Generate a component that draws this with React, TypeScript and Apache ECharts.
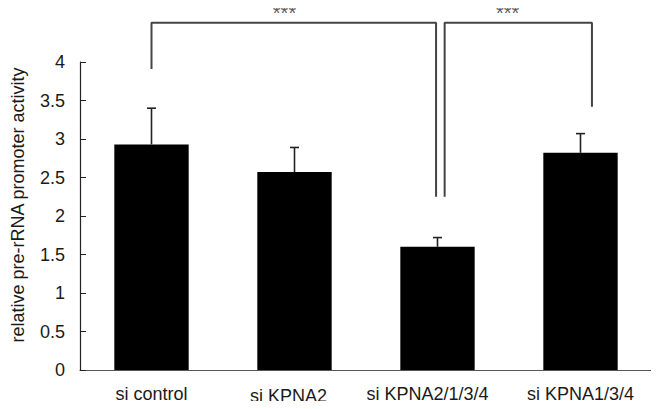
import React, { useEffect, useRef } from "react";
import * as echarts from "echarts";

const categories = ["si control", "si KPNA2", "si KPNA2/1/3/4", "si KPNA1/3/4"];
const means = [2.93, 2.57, 1.6, 2.82];
const upperErr = [3.4, 2.89, 1.72, 3.07];
const yTicks = { min: 0, max: 4, interval: 0.5 };
// brackets in (value-x, y) units; x axis maps category i to i
const bracket1 = [[0, 3.91], [0, 4.51], [1.99, 4.51], [1.99, 2.25]];
const bracket2 = [[2.05, 2.25], [2.05, 4.51], [3.08, 4.51], [3.08, 3.42]];
const stars = [[0.93, 4.51, "***"], [2.49, 4.51, "***"]];
const yName = "relative pre-rRNA promoter activity";

export default function App() {
  const ref = useRef<HTMLDivElement>(null);
  useEffect(() => {
    if (!ref.current) return;
    const chart = echarts.init(ref.current, null, { renderer: "svg" });
    const font = "'Liberation Sans', Arial, sans-serif";
    const labelPads = [
      [0, 0, 0, 0],
      [2, 12, 0, 0],
      [0, 20, 0, 0],
      [0, 0, 0, 0],
    ];
    const option: any = {
      animation: false,
      backgroundColor: "#fff",
      grid: { left: 80, right: 7, top: 62, bottom: 39, containLabel: false },
      xAxis: [
        {
          type: "category",
          data: categories.map((c, i) => ({ value: c, textStyle: { padding: labelPads[i] } })),
          axisLine: { show: true, lineStyle: { color: "#555", width: 1.2 } },
          axisTick: { show: false },
          axisLabel: { color: "#1a1a1a", fontSize: 18, fontFamily: font, margin: 15, interval: 0 },
        },
        { type: "value", min: -0.5, max: 3.5, show: false },
      ],
      yAxis: {
        type: "value",
        min: yTicks.min,
        max: yTicks.max,
        interval: yTicks.interval,
        splitLine: { show: false },
        axisLine: { show: true, onZero: false, lineStyle: { color: "#222", width: 1.2 } },
        axisTick: { show: true, inside: true, length: 6, lineStyle: { color: "#222" } },
        axisLabel: { color: "#1a1a1a", fontSize: 18, fontFamily: font, margin: 15 },
      },
      graphic: [
        {
          type: "text",
          x: 18,
          y: 205,
          rotation: Math.PI / 2,
          style: {
            text: yName,
            fontSize: 18,
            fontFamily: font,
            fill: "#1a1a1a",
            align: "center",
            verticalAlign: "middle",
          },
        },
      ],
      series: [
        {
          type: "bar",
          data: means,
          barWidth: "52%",
          itemStyle: { color: "#000" },
          xAxisIndex: 0,
        },
        {
          type: "custom",
          xAxisIndex: 0,
          data: means.map((m, i) => [i, m, upperErr[i]]),
          z: 5,
          renderItem: (params: any, api: any) => {
            const p1 = api.coord([api.value(0), api.value(1)]);
            const p2 = api.coord([api.value(0), api.value(2)]);
            const style = { stroke: "#222", lineWidth: 1.6 };
            return {
              type: "group",
              children: [
                { type: "line", shape: { x1: p1[0], y1: p1[1], x2: p2[0], y2: p2[1] }, style },
                { type: "line", shape: { x1: p2[0] - 4.5, y1: p2[1], x2: p2[0] + 4.5, y2: p2[1] }, style },
              ],
            };
          },
        },
        {
          type: "line",
          xAxisIndex: 1,
          data: bracket1,
          symbol: "none",
          clip: false,
          lineStyle: { color: "#444", width: 2 },
        },
        {
          type: "line",
          xAxisIndex: 1,
          data: bracket2,
          symbol: "none",
          clip: false,
          lineStyle: { color: "#444", width: 2 },
        },
        {
          type: "scatter",
          xAxisIndex: 1,
          data: stars.map((s) => ({ value: [s[0], s[1]], label: { formatter: s[2] as string } })),
          symbolSize: 0,
          clip: false,
          label: {
            show: true,
            position: "top",
            distance: 0,
            color: "#333",
            fontSize: 20,
            fontFamily: font,
          },
        },
      ],
    };
    chart.setOption(option);
    return () => chart.dispose();
  }, []);
  return <div ref={ref} style={{ width: 659, height: 409, margin: -8 }} />;
}
